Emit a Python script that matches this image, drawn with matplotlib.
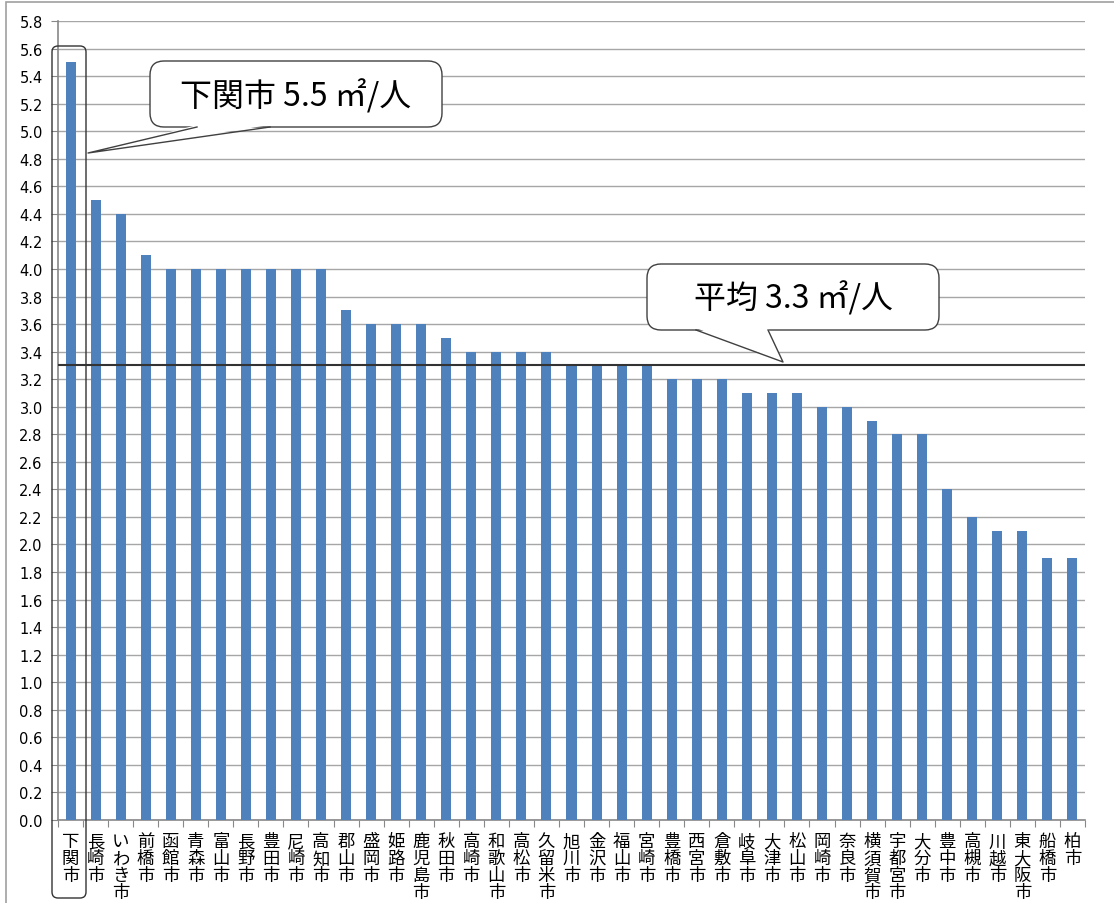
import matplotlib
matplotlib.use("Agg")
import matplotlib.pyplot as plt
from matplotlib.patches import FancyBboxPatch, Polygon, Rectangle
import numpy as np

plt.rcParams["font.family"] = ["Noto Sans CJK JP", "DejaVu Sans"]

cities = [
    "下関市", "長崎市", "いわき市", "前橋市", "函館市", "青森市", "富山市",
    "長野市", "豊田市", "尼崎市", "高知市", "郡山市", "盛岡市", "姫路市",
    "鹿児島市", "秋田市", "高崎市", "和歌山市", "高松市", "久留米市", "旭川市",
    "金沢市", "福山市", "宮崎市", "豊橋市", "西宮市", "倉敷市", "岐阜市",
    "大津市", "松山市", "岡崎市", "奈良市", "横須賀市", "宇都宮市", "大分市",
    "豊中市", "高槻市", "川越市", "東大阪市", "船橋市", "柏市",
]
area_per_person = [
    5.5, 4.5, 4.4, 4.1, 4.0, 4.0, 4.0, 4.0, 4.0, 4.0, 4.0, 3.7, 3.6, 3.6,
    3.6, 3.5, 3.4, 3.4, 3.4, 3.4, 3.3, 3.3, 3.3, 3.3, 3.2, 3.2, 3.2, 3.1,
    3.1, 3.1, 3.0, 3.0, 2.9, 2.8, 2.8, 2.4, 2.2, 2.1, 2.1, 1.9, 1.9,
]
average = 3.3
y_ticks = np.round(np.arange(0, 5.81, 0.2), 1)

W, H = 1114, 904
fig = plt.figure(figsize=(W / 100, H / 100), dpi=100)
ax = fig.add_axes([58 / W, 1 - 821 / H, (1085 - 58) / W, (821 - 22) / H])

x = np.arange(len(cities))
ax.bar(x, area_per_person, width=0.4, color="#4F81BD", zorder=3)
ax.axhline(average, color="#333333", lw=1.5, zorder=4)

ax.set_xlim(-0.5, len(cities) - 0.5)
ax.set_ylim(0, 5.8)
ax.set_yticks(y_ticks)
ax.set_yticklabels([f"{v:.1f}" for v in y_ticks], family="DejaVu Sans", fontsize=10.5)
ax.yaxis.grid(True, color="#a6a6a6", lw=1, zorder=0)
ax.tick_params(axis="y", length=5, color="#888888", pad=6)

# category boundaries as tick marks, labels drawn vertically below
ax.set_xticks(np.arange(-0.5, len(cities), 1.0))
ax.set_xticklabels([])
ax.tick_params(axis="x", length=5, color="#888888")
for i, name in enumerate(cities):
    ax.text(i, -0.09, "\n".join(name), ha="center", va="top", fontsize=12.5,
            linespacing=0.92, clip_on=False)

for s in ["top", "right"]:
    ax.spines[s].set_visible(False)
for s in ["left", "bottom"]:
    ax.spines[s].set_color("#888888")
    ax.spines[s].set_linewidth(1.2)

# outer chart-area frame
fig.patches.append(Rectangle((6, -20), W + 20, H - 3 + 20, transform=None,
                             fill=False, ec="#a0a0a0", lw=1.2))

# highlight box around the first bar
fig.patches.append(FancyBboxPatch((52, H - 899), 34, 852,
                                  boxstyle="round,pad=0,rounding_size=6",
                                  transform=None, fill=False, ec="#333333",
                                  lw=1.0, zorder=6))


def callout(box, base, tip, label, tx, ty):
    x0, y0, x1, y1 = box
    fig.patches.append(FancyBboxPatch((x0, H - y1), x1 - x0, y1 - y0,
                                      boxstyle="round,pad=0,rounding_size=14",
                                      transform=None, fc="white", ec="#404040",
                                      lw=1.0, zorder=6))
    (bx0, by0), (bx1, by1) = base
    fig.patches.append(Polygon([(bx0, H - by0 + 2), (bx1, H - by1 + 2),
                                (tip[0], H - tip[1])], closed=True,
                               transform=None, fc="white", ec="none", zorder=7))
    fig.lines.append(plt.Line2D([bx0, tip[0], bx1],
                                [H - by0, H - tip[1], H - by1],
                                transform=None, color="#404040", lw=1.0,
                                zorder=8))
    fig.text(tx / W, 1 - ty / H, label, ha="center", va="center",
             fontsize=23, zorder=9)


callout((150, 62, 442, 128), ((197, 128), (270, 128)), (88, 154),
        "下関市 5.5 ㎡/人", 296, 96)
callout((647, 265, 939, 331), ((696, 331), (768, 331)), (783, 363),
        f"平均 {average} ㎡/人", 793, 298)

fig.savefig("out.png", dpi=100)
